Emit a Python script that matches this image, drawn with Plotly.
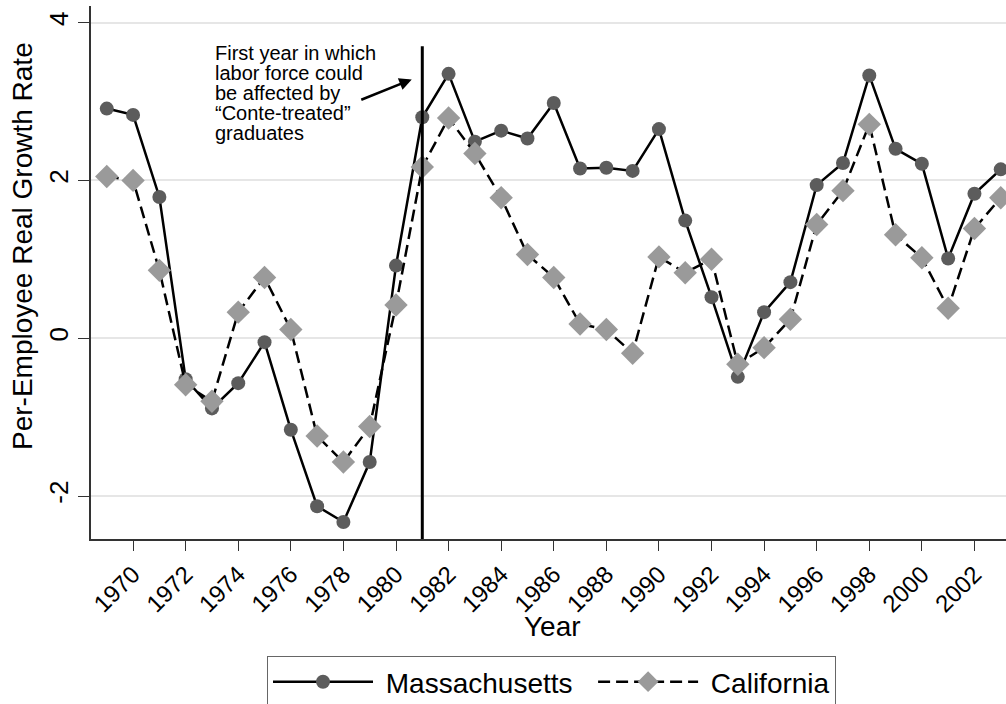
import plotly.graph_objects as go

years = list(range(1969, 2004))
massachusetts = [2.91, 2.83, 1.79, -0.52, -0.89, -0.57, -0.05, -1.16, -2.13, -2.33,
                 -1.57, 0.92, 2.80, 3.35, 2.49, 2.63, 2.53, 2.98, 2.15, 2.16,
                 2.12, 2.65, 1.49, 0.52, -0.49, 0.33, 0.71, 1.94, 2.22, 3.33,
                 2.40, 2.21, 1.01, 1.83, 2.14]
california = [2.05, 2.00, 0.86, -0.59, -0.80, 0.33, 0.77, 0.11, -1.24, -1.57,
              -1.12, 0.42, 2.17, 2.79, 2.34, 1.78, 1.06, 0.77, 0.18, 0.11,
              -0.19, 1.03, 0.83, 1.00, -0.33, -0.12, 0.24, 1.44, 1.87, 2.71,
              1.31, 1.02, 0.38, 1.39, 1.78]
x_ticks = list(range(1970, 2004, 2))
y_ticks = [-2, 0, 2, 4]
event_year = 1981
note_lines = ["First year in which", "labor force could", "be affected by",
              "\u201cConte-treated\u201d", "graduates"]

FONT = "Liberation Sans, Arial, sans-serif"
W, H = 1006, 704
ML, MR, MT, MB = 91, 0, 6, 165
PW, PH = W - ML - MR, H - MT - MB
XR = [1968.4, 2003.2]
YR = [-2.545, 4.21]
NB = "\u00a0"


def px_to_paper_x(px):
    return (px - ML) / PW


def px_to_paper_y(py):
    return (H - MB - py) / PH


fig = go.Figure()
fig.add_trace(go.Scatter(
    x=years, y=massachusetts, name=NB + "Massachusetts" + NB * 2, mode="lines+markers",
    line=dict(color="black", width=2.5),
    marker=dict(symbol="circle", size=14, color="#5c5c5c"),
))
fig.add_trace(go.Scatter(
    x=years, y=california, name=NB + "California", mode="lines+markers",
    line=dict(color="black", width=2.5, dash="12px,6px"),
    marker=dict(symbol="diamond", size=18, color="#9a9a9a"),
))

fig.add_shape(type="line", x0=event_year, x1=event_year, y0=YR[0], y1=3.70,
              xref="x", yref="y", line=dict(color="black", width=3))

for i, t in enumerate(note_lines):
    fig.add_annotation(text=t, xref="paper", yref="paper",
                       x=px_to_paper_x(213), y=px_to_paper_y(53 + 20 * i),
                       xanchor="left", yanchor="middle", showarrow=False,
                       font=dict(family=FONT, size=20, color="black"))

fig.add_annotation(text="", x=1980.6, y=3.28, xref="x", yref="y",
                   ax=-52, ay=21, showarrow=True, arrowhead=2, arrowsize=1,
                   arrowwidth=2.5, arrowcolor="black")

fig.add_annotation(text="Per-Employee Real Growth Rate", xref="paper", yref="paper",
                   x=px_to_paper_x(22), y=px_to_paper_y(246), textangle=-90,
                   xanchor="center", yanchor="middle", showarrow=False,
                   font=dict(family=FONT, size=28, color="black"))
fig.add_annotation(text="Year", xref="paper", yref="paper",
                   x=px_to_paper_x(552), y=px_to_paper_y(626),
                   xanchor="center", yanchor="middle", showarrow=False,
                   font=dict(family=FONT, size=28, color="black"))

fig.update_layout(
    width=W, height=H,
    margin=dict(l=ML, r=MR, t=MT, b=MB, autoexpand=False),
    paper_bgcolor="white", plot_bgcolor="white",
    font=dict(family=FONT, color="black"),
    showlegend=True,
    legend=dict(orientation="h", x=px_to_paper_x(551.5), y=px_to_paper_y(656),
                xanchor="center", yanchor="top",
                bordercolor="#666666", borderwidth=1, bgcolor="white",
                font=dict(family=FONT, size=28, color="black"),
                itemwidth=100, tracegroupgap=0),
    xaxis=dict(range=XR, tickmode="array", tickvals=x_ticks,
               ticktext=[str(v) for v in x_ticks], tickangle=-45,
               ticks="outside", ticklen=10, tickwidth=1, tickcolor="#333333",
               showgrid=False, zeroline=False, showline=True,
               linecolor="#333333", linewidth=1.5, mirror=False,
               tickfont=dict(family=FONT, size=24, color="black")),
    yaxis=dict(range=YR, tickmode="array", tickvals=y_ticks,
               ticktext=[str(v) for v in y_ticks], tickangle=-90,
               ticks="outside", ticklen=11, tickwidth=1, tickcolor="#333333",
               showgrid=True, gridcolor="#e6e6e6", gridwidth=2,
               zeroline=False, showline=True, linecolor="#333333",
               linewidth=1.5, mirror=False,
               tickfont=dict(family=FONT, size=26, color="black")),
)

fig.write_html(
    "out.html",
    config={"displayModeBar": False},
    post_script="document.body.style.margin='0';document.body.style.overflow='hidden';",
)
